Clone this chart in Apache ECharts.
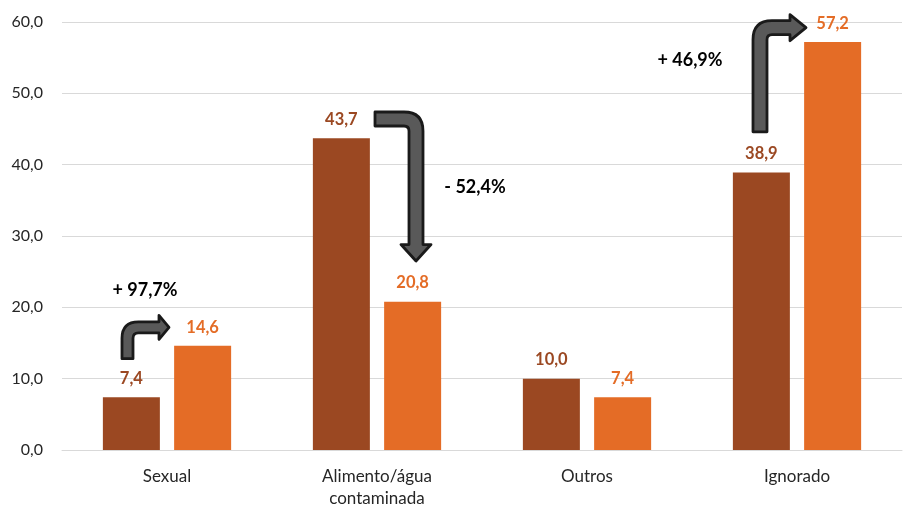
<!DOCTYPE html>
<html><head><meta charset="utf-8">
<script src="https://cdn.jsdelivr.net/npm/echarts@6/dist/echarts.min.js"></script>
<style>html,body{margin:0;padding:0;background:#fff}#c{width:904px;height:510px}</style>
</head><body><div id="c"></div>
<script>
const categories = ['Sexual', 'Alimento/água\ncontaminada', 'Outros', 'Ignorado'];
const periodoA = [7.4, 43.7, 10.0, 38.9];
const periodoB = [14.6, 20.8, 7.4, 57.2];
const yTicks = [0, 10, 20, 30, 40, 50, 60];
const variacoes = ['+ 97,7%', '- 52,4%', '+ 46,9%'];
const variacaoCategoria = [0, 1, 3];

const FONT = 'Lato, "Liberation Sans", sans-serif';
const cDark = '#9B4822', cOrange = '#E46C26';
const fmt = v => Number(v).toFixed(1).replace('.', ',');

// up then right arrow outline
function upRight(sx, y0, cy, tx, hx, w, hh, rc) {
  return `M${sx-w},${y0} L${sx-w},${cy+rc} Q${sx-w},${cy-w} ${sx+rc},${cy-w} L${hx},${cy-w} L${hx},${cy-hh} L${tx},${cy} L${hx},${cy+hh} L${hx},${cy+w} L${sx+rc},${cy+w} Q${sx+w},${cy+w} ${sx+w},${cy+rc} L${sx+w},${y0} Z`;
}
// right then down arrow outline
function rightDown(x0, cy, sx, hy, ty, w, hh, rc) {
  return `M${x0},${cy-w} L${sx-rc},${cy-w} Q${sx+w},${cy-w} ${sx+w},${cy+rc} L${sx+w},${hy} L${sx+hh},${hy} L${sx},${ty} L${sx-hh},${hy} L${sx-w},${hy} L${sx-w},${cy+rc} Q${sx-w},${cy+w} ${sx-rc},${cy+w} L${x0},${cy+w} Z`;
}
const arrowStyle = {fill: '#595959', stroke: '#1a1a1a', lineWidth: 2.8, lineJoin: 'round'};

function renderArrow(params, api) {
  const k = api.value(0);
  const c = api.coord([k, 0])[0];
  const py = v => api.coord([k, v])[1];
  let d, tp;
  if (k === 0) {
    d = upRight(c - 39.5, py(12.8), py(17.2), c + 2, c - 8, 5.5, 12, 11);
    tp = [c - 22, py(22.4)];
  } else if (k === 1) {
    d = rightDown(c - 2, py(46.4), c + 39, py(28.8), py(26.5), 7, 15, 12);
    tp = [c + 98, py(36.9)];
  } else {
    d = upRight(c - 37, py(44.6), py(59.2), c + 9, c - 7, 7, 13, 12);
    tp = [c - 107, py(54.6)];
  }
  return {
    type: 'group',
    children: [
      {type: 'path', shape: {pathData: d}, style: arrowStyle},
      {type: 'text', x: tp[0], y: tp[1],
       style: {text: variacoes[params.dataIndex], fill: '#000', font: 'bold 18px ' + FONT, align: 'center', verticalAlign: 'middle'}}
    ]
  };
}

const chart = echarts.init(document.getElementById('c'), null, {renderer: 'canvas'});
chart.setOption({
  animation: false,
  grid: {left: 62, right: 2, top: 22, bottom: 56},
  xAxis: {
    type: 'category', data: categories,
    axisLine: {lineStyle: {color: '#d9d9d9', width: 1}},
    axisTick: {show: false},
    axisLabel: {color: '#262626', fontFamily: FONT, fontSize: 17, margin: 16, lineHeight: 22}
  },
  yAxis: {
    type: 'value', min: yTicks[0], max: yTicks[yTicks.length - 1], interval: 10,
    axisLine: {show: false}, axisTick: {show: false},
    splitLine: {lineStyle: {color: '#d9d9d9', width: 1}},
    axisLabel: {color: '#262626', fontFamily: FONT, fontSize: 16, margin: 19, formatter: fmt}
  },
  series: [
    {type: 'bar', data: periodoA, barWidth: 57, barGap: '25%', itemStyle: {color: cDark},
     label: {show: true, position: 'top', distance: 10, color: cDark, fontFamily: FONT, fontWeight: 'bold', fontSize: 16.5, formatter: p => fmt(p.value)}},
    {type: 'bar', data: periodoB, barWidth: 57, barGap: '25%', itemStyle: {color: cOrange},
     label: {show: true, position: 'top', distance: 10, color: cOrange, fontFamily: FONT, fontWeight: 'bold', fontSize: 16.5, formatter: p => fmt(p.value)}},
    {type: 'custom', data: variacaoCategoria.map(k => [k]), renderItem: renderArrow, z: 10, silent: true, clip: false}
  ]
});
</script></body></html>
